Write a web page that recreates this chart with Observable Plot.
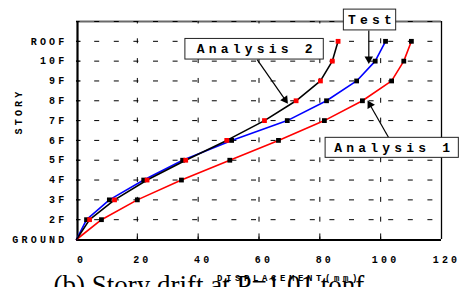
<!DOCTYPE html>
<html><head><meta charset="utf-8">
<script src="https://cdn.jsdelivr.net/npm/d3@7"></script>
<script src="https://cdn.jsdelivr.net/npm/@observablehq/plot@0.6"></script>
<style>
html,body{margin:0;padding:0;background:#fff;}
#chart{width:460px;height:287px;overflow:hidden;}
</style></head><body><div id="chart"></div>
<script>
// ---- data ----
const storyLabels = ["GROUND","2F","3F","4F","5F","6F","7F","8F","9F","10F","ROOF"];
const levels = [0,1,2,3,4,5,6,7,8,9,10];
const analysis1 = [0, 8.2, 20.0, 34.5, 50.4, 66.4, 81.5, 94.0, 103.6, 107.6, 110.1];
const test      = [0, 3.3, 10.8, 22.1, 34.9, 51.0, 69.3, 82.2, 92.1, 98.2, 101.6];
const analysis2 = [0, 4.3, 12.5, 23.2, 35.9, 49.4, 61.8, 72.2, 80.2, 84.1, 86.0];
const xTicks = [0,20,40,60,80,100,120];
const gridX = [20,40,60,80,100];
const xLabel = "DISPLACEMENT(mm)";
const yLabel = "STORY";
const caption = "(b) Story drift at P=1,01 tonf";
const annotations = [
  {label:"Analysis 2", x1:35.8, x2:81.3, y1:9.08, y2:10.12, ax1:59.4, ay1:9.08, ax2:69.5, ay2:6.85},
  {label:"Test",       x1:87.9, x2:105.1, y1:10.55, y2:11.6, ax1:96.1, ay1:10.55, ax2:96.1, ay2:8.86},
  {label:"Analysis 1", x1:81.9, x2:125.7, y1:4.12, y2:5.13, ax1:102.6, ay1:5.15, ax2:95.7, ay2:7.01}
];

// ---- layout ----
const W = 460, H = 287, mL = 76, mR = 19, mT = 21, mB = 48;
const layout = {width:W, height:H, marginLeft:mL, marginRight:mR, marginTop:mT, marginBottom:mB,
  x:{domain:[0,120], axis:null}, y:{domain:[0,11], axis:null}};

const rows = levels.map(i => ({level:i, a1:analysis1[i], t:test[i], a2:analysis2[i]}));
const upper = rows.filter(r => r.level > 0);

// scale factors via a probe plot
const probe = Plot.plot({...layout, marks:[Plot.ruleY([0])]});
const sx = probe.scale("x"), sy = probe.scale("y");
const kx = (sx.range[1]-sx.range[0])/(sx.domain[1]-sx.domain[0]);
const ky = (sy.range[1]-sy.range[0])/(sy.domain[1]-sy.domain[0]);

const headSide = 8.5, headH = headSide*Math.sqrt(3)/2;
const headR = headSide*Math.sqrt(Math.sqrt(3)/(4*Math.PI));
const arrows = annotations.map(a => {
  const px = (a.ax2-a.ax1)*kx, py = (a.ay2-a.ay1)*ky;
  const len = Math.hypot(px, py), ux = px/len, uy = py/len;
  const c = headH*2/3;
  return {
    x1:a.ax1, y1:a.ay1,
    x2:a.ax2 - headH*0.8*ux/kx, y2:a.ay2 - headH*0.8*uy/ky,
    hx:a.ax2 - c*ux/kx, hy:a.ay2 - c*uy/ky,
    rot: Math.atan2(ux, -uy)*180/Math.PI
  };
});

const chart = Plot.plot({
  ...layout,
  style:{fontFamily:"'Liberation Mono', 'Courier New', monospace", fontWeight:"bold", fontSize:"10px",
         letterSpacing:"3.2px", background:"white", color:"black"},
  marks:[
    // grid
    Plot.ruleY(levels.slice(1), {stroke:"black", strokeWidth:1, strokeDasharray:"5 14.6", strokeDashoffset:1.4}),
    Plot.ruleY([11], {stroke:"#6a6a6a", strokeWidth:2}),
    Plot.ruleY([11], {stroke:"black", strokeWidth:1, strokeDasharray:"5 14.6", strokeDashoffset:1.4}),
    Plot.ruleX(gridX, {y1:0, y2:11, stroke:"black", strokeWidth:1, strokeDasharray:"5 14.82", strokeDashoffset:2.5}),
    Plot.ruleX(gridX, {y1:0, y2:0.28, stroke:"black", strokeWidth:1}),
    Plot.ruleY(levels.slice(1), {x1:0, x2:1.5, stroke:"black", strokeWidth:1}),
    // frame
    Plot.ruleX([120], {stroke:"black", strokeWidth:1.3}),
    Plot.ruleX([0], {stroke:"black", strokeWidth:2.2, dx:1}),
    Plot.ruleY([0], {stroke:"black", strokeWidth:2.2, dy:0.5}),
    // series
    Plot.line(rows, {x:"a1", y:"level", stroke:"#ff0000", strokeWidth:1.6}),
    Plot.dot(upper, {x:"a1", y:"level", symbol:"square", r:2.7, fill:"black"}),
    Plot.line(rows, {x:"t", y:"level", stroke:"#0000ff", strokeWidth:1.6}),
    Plot.dot(upper, {x:"t", y:"level", symbol:"square", r:2.7, fill:"black"}),
    Plot.line(rows, {x:"a2", y:"level", stroke:"black", strokeWidth:1.6}),
    Plot.dot(upper, {x:"a2", y:"level", symbol:"square", r:2.7, fill:"#ff0000"}),
    // arrows
    Plot.link(arrows, {x1:"x1", y1:"y1", x2:"x2", y2:"y2", stroke:"black", strokeWidth:1.2}),
    Plot.dot(arrows, {x:"hx", y:"hy", symbol:"triangle", r:headR, fill:"black", rotate:"rot"}),
    // label boxes
    Plot.rect(annotations, {x1:"x1", x2:"x2", y1:"y1", y2:"y2", fill:"white", stroke:"#222", strokeWidth:1}),
    Plot.text(annotations, {x:d => (d.x1+d.x2)/2, y:d => (d.y1+d.y2)/2, text:"label", fontSize:13, dx:2.1, dy:-0.5, lineAnchor:"middle"}),
    // axis labels
    Plot.text(levels, {x:0, y:d => d, text:d => storyLabels[d], textAnchor:"end", dx:-9, lineAnchor:"middle"}),
    Plot.text(xTicks, {x:d => d, frameAnchor:"bottom", dy:20, dx:5, lineAnchor:"middle", text:d => String(d)}),
    Plot.text([caption], {frameAnchor:"bottom-left", dx:-23, dy:54, textAnchor:"start", lineAnchor:"bottom",
      fontFamily:"'Liberation Serif', 'Times New Roman', serif", fontSize:27, fontWeight:"normal", text:d => d}),
    Plot.text([xLabel], {frameAnchor:"bottom", dx:30, dy:41.7, lineAnchor:"bottom", fontSize:9, text:d => d}),
    Plot.text([yLabel], {frameAnchor:"left", dx:-58, dy:4, rotate:-90, lineAnchor:"middle", text:d => d})
  ]
});

const spacing = {"Analysis 1":"4.2px", "Analysis 2":"4.2px", "Test":"4.2px"};
spacing[xLabel] = "3.6px";
spacing[caption] = "0px";
d3.select(chart).selectAll("text").each(function(){
  const s = spacing[this.textContent];
  if (s) this.style.letterSpacing = s;
});
document.getElementById("chart").appendChild(chart);
</script></body></html>
